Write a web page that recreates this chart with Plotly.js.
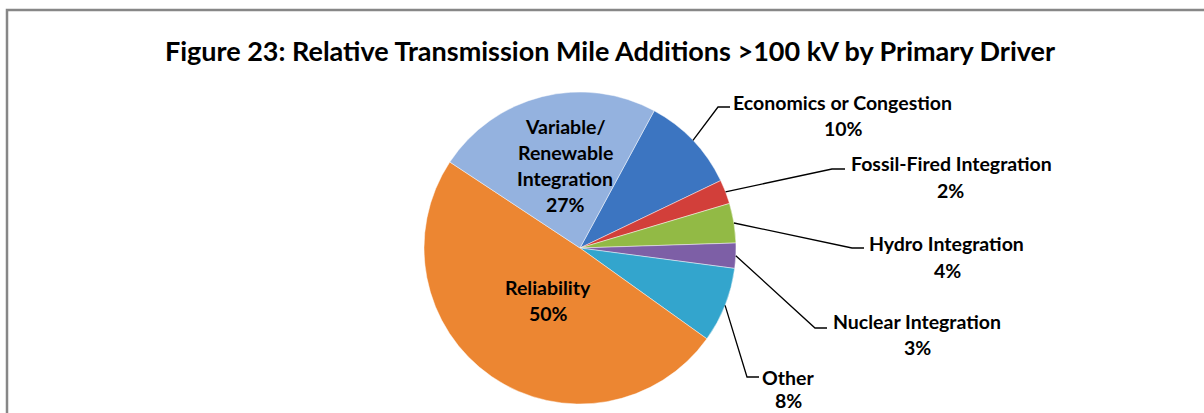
<!DOCTYPE html>
<html>
<head>
<meta charset="utf-8">
<script src="https://cdn.plot.ly/plotly-3.0.1.min.js"></script>
<style>
  html, body { margin: 0; padding: 0; background: #fff; }
  #chart { width: 1204px; height: 413px; }
</style>
</head>
<body>
<div id="chart"></div>
<script>
// ---- data ----
const categories = ['Economics or Congestion', 'Fossil-Fired Integration', 'Hydro Integration',
                    'Nuclear Integration', 'Other', 'Reliability', 'Variable/ Renewable Integration'];
const shares = [10.0, 2.5, 4.1, 2.6, 7.8, 49.4, 23.6];      // slice sizes
const pctLabels = ['10%', '2%', '4%', '3%', '8%', '50%', '27%']; // printed data labels
const titleText = 'Figure 23: Relative Transmission Mile Additions >100 kV by Primary Driver';

// ---- style / layout ----
const W = 1204, H = 413;
const colors = ['#3c75c1', '#d23f3a', '#92ba45', '#7d5fa6', '#33a5cd', '#ec8632', '#94b2df'];
const pieCx = 580, pieCy = 248, pieR = 156, startAngle = 28.4;
const fontFam = 'Lato, "Open Sans", sans-serif';
const labelSize = 19.5;
// outside label placement (pixels): name line centre, pct line centre, elbow, line end
const outside = [
  {name: [842, 103], pct: [843, 128], elbow: [718, 107], end: [730, 107]},
  {name: [951, 163], pct: [950, 190], elbow: [832, 169], end: [845, 169]},
  {name: [946, 243], pct: [947, 270], elbow: [852, 248], end: [864, 248]},
  {name: [917, 321], pct: [917, 347], elbow: [815, 328], end: [827, 328]},
  {name: [788, 377], pct: [788, 400], elbow: [747, 377], end: [759, 377]},
];
const inside = {5: [548, 287], 6: [565, 126]};
const lineGap = 26;

const px = x => x / W;
const py = y => 1 - y / H;

const annotations = [];
const shapes = [];
const total = shares.reduce((a, b) => a + b, 0);
let acc = 0;
shares.forEach((v, i) => {
  const mid = (startAngle + (acc + v / 2) / total * 360) * Math.PI / 180;
  acc += v;
  if (i < 5) {
    const o = outside[i];
    annotations.push({x: px(o.name[0]), y: py(o.name[1]), text: categories[i]});
    annotations.push({x: px(o.pct[0]), y: py(o.pct[1]), text: pctLabels[i]});
    const sx = pieCx + pieR * Math.sin(mid), sy = pieCy - pieR * Math.cos(mid);
    shapes.push({
      type: 'path', xref: 'paper', yref: 'paper',
      path: `M ${px(sx)},${py(sy)} L ${px(o.elbow[0])},${py(o.elbow[1])} L ${px(o.end[0])},${py(o.end[1])}`,
      line: {color: '#000', width: 1.3}
    });
  } else {
    const p = inside[i];
    const txt = (i === 6 ? ['Variable/', 'Renewable', 'Integration'] : [categories[i]]).concat([pctLabels[i]]);
    txt.forEach((t, k) => annotations.push({x: px(p[0]), y: py(p[1] + k * lineGap), text: t}));
  }
});
annotations.forEach(a => Object.assign(a, {
  xref: 'paper', yref: 'paper', xanchor: 'center', yanchor: 'middle', showarrow: false,
  font: {family: fontFam, size: labelSize, color: '#000', weight: 700}
}));

// frame
shapes.push({type: 'rect', xref: 'paper', yref: 'paper', x0: px(7), x1: px(W + 20), y0: py(H + 20), y1: py(10),
             line: {color: '#878787', width: 2.5}, fillcolor: 'rgba(0,0,0,0)', layer: 'below'});

const trace = {
  type: 'pie',
  labels: categories,
  values: shares,
  sort: false,
  direction: 'clockwise',
  rotation: startAngle,
  textinfo: 'none',
  hoverinfo: 'label+percent',
  marker: {colors: colors, line: {color: 'rgba(255,255,255,0.45)', width: 1}},
  domain: {x: [px(pieCx - pieR), px(pieCx + pieR)], y: [py(pieCy + pieR), py(pieCy - pieR)]},
  showlegend: false
};

const layout = {
  width: W, height: H,
  margin: {l: 0, r: 0, t: 0, b: 0},
  paper_bgcolor: '#fff',
  showlegend: false,
  title: {text: titleText, x: px(610), y: py(52), xanchor: 'center', yanchor: 'middle',
          xref: 'paper', yref: 'container',
          font: {family: fontFam, size: 27, color: '#000', weight: 700}},
  annotations: annotations,
  shapes: shapes
};

Plotly.newPlot('chart', [trace], layout, {displayModeBar: false, staticPlot: true});
</script>
</body>
</html>
